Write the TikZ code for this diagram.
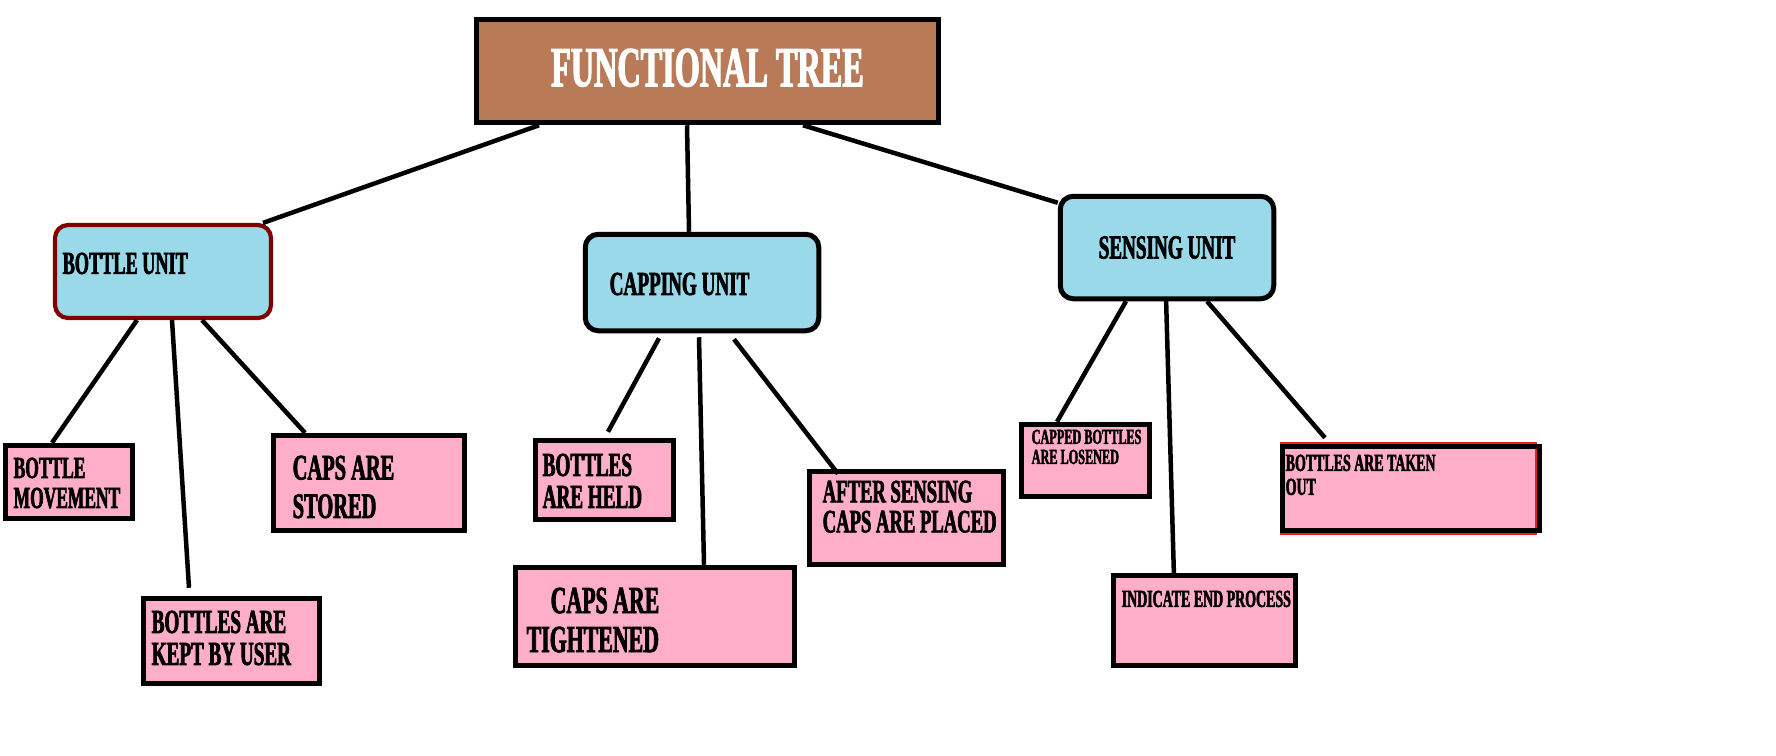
\documentclass[tikz,border=0pt]{standalone}
\usepackage{fontspec}
\usepackage{xcolor}
\usepackage{tikz}
\newfontfamily\treefont[FakeStretch=0.57,FakeBold=2]{Liberation Serif}

\definecolor{treebrown}{RGB}{185,122,87}
\definecolor{unitblue}{RGB}{153,217,234}
\definecolor{taskpink}{RGB}{255,174,201}
\definecolor{unitred}{RGB}{128,0,0}
\definecolor{linered}{RGB}{237,28,36}

\begin{document}
\begin{tikzpicture}[
	unit/.style={fill=unitblue, draw=black, line width=0.05cm, rounded corners=0.13cm},
	task/.style={fill=taskpink, draw=black, line width=0.05cm},
	link/.style={line width=0.045cm},
	tasktext/.style={anchor=north west, inner sep=0pt, align=left}
]
	\path[use as bounding box, fill=white] (0,0) rectangle (17.76,7.55);

	\node[fill=treebrown, draw=black, line width=0.055cm, minimum width=4.62cm, minimum height=1.03cm, text=white, text depth=0.07cm, font=\treefont\bfseries\fontsize{16.1}{16}\selectfont] (tree) at (7.075,6.84) {FUNCTIONAL TREE};

	\node[unit, draw=unitred, line width=0.042cm, minimum width=2.16cm, minimum height=0.93cm] (bottle) at (1.63,4.835) {};
	\node[unit, minimum width=2.335cm, minimum height=0.965cm] (capping) at (7.02,4.725) {};
	\node[unit, minimum width=2.135cm, minimum height=1.025cm, font=\treefont\bfseries\fontsize{9.55}{9}\selectfont] (sensing) at (11.67,5.075) {SENSING UNIT};

	\node[tasktext, font=\treefont\bfseries\fontsize{9.1}{9}\selectfont] (bottle-txt) at (0.62,5.03) {BOTTLE UNIT};
	\node[tasktext, font=\treefont\bfseries\fontsize{9.55}{9}\selectfont] (capping-txt) at (6.09,4.83) {CAPPING UNIT};

	\node[task, minimum width=1.275cm, minimum height=0.735cm] (movement) at (0.69,2.73) {};
	\node[task, minimum width=1.765cm, minimum height=0.855cm] (kept) at (2.315,1.14) {};
	\node[task, minimum width=1.915cm, minimum height=0.955cm] (stored) at (3.69,2.72) {};
	\node[task, minimum width=1.385cm, minimum height=0.795cm] (held) at (6.045,2.75) {};
	\node[task, minimum width=2.795cm, minimum height=0.985cm] (tightened) at (6.55,1.385) {};
	\node[task, minimum width=1.945cm, minimum height=0.935cm] (placed) at (9.065,2.37) {};
	\node[task, minimum width=1.285cm, minimum height=0.725cm] (losened) at (10.855,2.945) {};
	\node[task, minimum width=1.825cm, minimum height=0.905cm] (endproc) at (12.045,1.345) {};
	\node[task, draw=linered, line width=0.02cm, minimum width=2.55cm, minimum height=0.91cm] (taken-red) at (14.085,2.665) {};
	\node[draw=black, line width=0.05cm, minimum width=2.575cm, minimum height=0.845cm] (taken) at (14.11,2.665) {};

	\node[tasktext, font=\treefont\bfseries\fontsize{8.7}{8.54}\selectfont] (movement-txt) at (0.13,2.98) {BOTTLE\\MOVEMENT};
	\node[tasktext, font=\treefont\bfseries\fontsize{9.55}{9.1}\selectfont] (kept-txt) at (1.51,1.45) {BOTTLES ARE\\KEPT BY USER};
	\node[tasktext, font=\treefont\bfseries\fontsize{10.2}{10.95}\selectfont] (stored-txt) at (2.92,3.00) {CAPS ARE\\STORED};
	\node[tasktext, font=\treefont\bfseries\fontsize{9.55}{9.1}\selectfont] (held-txt) at (5.42,3.02) {BOTTLES\\ARE HELD};
	\node[tasktext, font=\treefont\bfseries\fontsize{10.9}{11.1}\selectfont] (tightened-txt) at (5.26,1.68) {\hspace*{0.24cm}CAPS ARE\\TIGHTENED};
	\node[tasktext, font=\treefont\bfseries\fontsize{9.3}{8.54}\selectfont] (placed-txt) at (8.22,2.75) {AFTER SENSING\\CAPS ARE PLACED};
	\node[tasktext, font=\treefont\bfseries\fontsize{6.1}{5.7}\selectfont] (losened-txt) at (10.31,3.26) {CAPPED BOTTLES\\ARE LOSENED};
	\node[tasktext, font=\treefont\bfseries\fontsize{6.95}{6.83}\selectfont] (taken-txt) at (12.85,3.01) {BOTTLES ARE TAKEN\\OUT};
	\node[tasktext, font=\treefont\bfseries\fontsize{6.95}{6.83}\selectfont] (endproc-txt) at (11.21,1.65) {INDICATE END PROCESS};

	% tree to units
	\draw[link] ([xshift=-1.685cm]tree.south) -- ([xshift=1cm]bottle.north);
	\draw[link] ([xshift=-0.205cm]tree.south) -- ([xshift=-0.13cm]capping.north);
	\draw[link] ([xshift=0.955cm]tree.south) -- ([yshift=-0.09cm]sensing.north west);

	% bottle unit
	\draw[link] ([xshift=-0.26cm]bottle.south) -- ([xshift=-0.17cm]movement.north);
	\draw[link] ([xshift=0.09cm]bottle.south) -- ([xshift=-0.425cm,yshift=0.08cm]kept.north);
	\draw[link] ([xshift=0.39cm]bottle.south) -- ([xshift=-0.64cm]stored.north);

	% capping unit
	\draw[link] ([xshift=-0.43cm,yshift=-0.05cm]capping.south) -- ([xshift=0.035cm,yshift=0.06cm]held.north);
	\draw[link] ([xshift=-0.03cm,yshift=-0.04cm]capping.south) -- ([xshift=0.49cm]tightened.north);
	\draw[link] ([xshift=0.32cm,yshift=-0.06cm]capping.south) -- ([xshift=-0.685cm,yshift=-0.05cm]placed.north);

	% sensing unit
	\draw[link] ([xshift=-0.41cm]sensing.south) -- ([xshift=-0.285cm]losened.north);
	\draw[link] ([xshift=-0.01cm,yshift=0.04cm]sensing.south) -- ([xshift=-0.305cm,yshift=-0.05cm]endproc.north);
	\draw[link] ([xshift=0.4cm]sensing.south) -- ([xshift=-0.86cm,yshift=0.06cm]taken.north);
\end{tikzpicture}
\end{document}
